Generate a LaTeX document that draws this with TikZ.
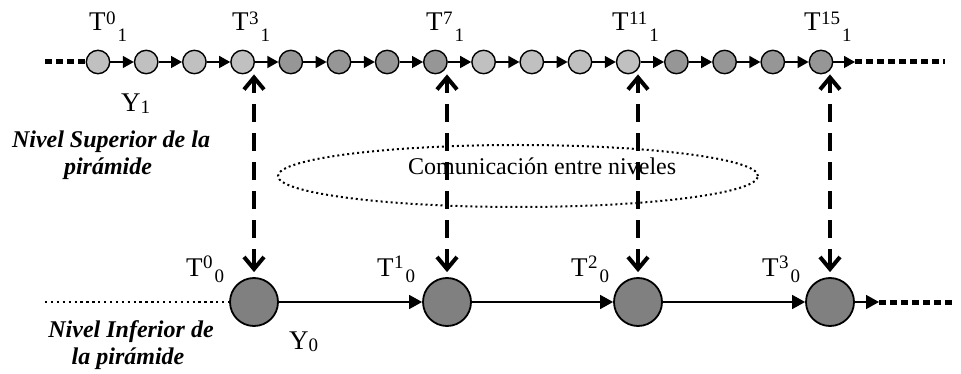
\documentclass[tikz,border=0pt]{standalone}
\usepackage{fontspec}
\setmainfont{Liberation Serif}
\usetikzlibrary{arrows.meta,shapes.geometric}
\definecolor{lgray}{HTML}{C0C0C0}
\definecolor{dgray}{HTML}{969696}
\definecolor{bgray}{HTML}{808080}
\newcommand\scr{\fontsize{19}{19}\selectfont}
\newcommand\Tlab[4]{T\hspace{0.5pt}\raisebox{#3}{\scr #1}\hspace{2pt}\raisebox{#4}{\scr #2}}
\begin{document}
\begin{tikzpicture}[x=1pt,y=-1pt,
  small/.style={circle,draw,line width=1.4pt,minimum size=23.4pt,inner sep=0pt},
  big/.style={circle,draw,line width=1.8pt,fill=bgray,minimum size=48pt,inner sep=0pt},
  harrow/.style={line width=1.5pt,-{Triangle[length=11pt,width=12pt]}},
  barrow/.style={line width=1.5pt,-{Triangle[length=13pt,width=14pt]}},
  thickdots/.style={line width=5pt,dash pattern=on 6.5pt off 4.5pt},
  finedots/.style={line width=2.3pt,dash pattern=on 2.3pt off 3.6pt},
  vlink/.style={line width=4pt,dash pattern=on 18pt off 11pt,
     {Straight Barb[length=12pt,width=20pt]}-{Straight Barb[length=12pt,width=20pt]},shorten <=5pt},
  lab/.style={font=\fontsize{27}{27}\selectfont,inner sep=0pt,anchor=base west},
  comm/.style={font=\fontsize{24}{24}\selectfont,inner sep=0pt,anchor=base west},
  nivel/.style={font=\fontsize{24}{24}\selectfont\bfseries\itshape,inner sep=0pt,anchor=base}
]
\useasboundingbox (0,0) rectangle (961,374);

% upper level
\foreach \i/\c in {0/lgray,1/lgray,2/lgray,3/lgray,4/dgray,5/dgray,6/dgray,7/dgray,
                   8/lgray,9/lgray,10/lgray,11/lgray,12/dgray,13/dgray,14/dgray,15/dgray}
  \node[small,fill=\c] (t\i) at ({98+48.2*\i},62) {};
\foreach \i [evaluate=\i as \j using int(\i+1)] in {0,...,14}
  \draw[harrow] (t\i) -- (t\j);
\coordinate (tstart) at (45,62);
\coordinate (tend) at (855,62);
\coordinate (tfar) at (945,62);
\draw[thickdots] (tstart) -- (t0);
\draw[harrow] (t15) -- (tend);
\draw[thickdots] (tend) -- (tfar);

% lower level
\node[big] (b0) at (254,302) {};
\node[big] (b1) at (447,302) {};
\node[big] (b2) at (638,302) {};
\node[big] (b3) at (830,302) {};
\draw[barrow] (b0) -- (b1);
\draw[barrow] (b1) -- (b2);
\draw[barrow] (b2) -- (b3);
\coordinate (bstart) at (45,302);
\coordinate (bend) at (879,302);
\coordinate (bfar) at (955,302);
\draw[finedots] (bstart) -- (b0);
\draw[barrow] (b3) -- (bend);
\draw[thickdots] (bend) -- (bfar);

% communication
\draw[vlink] (b0) -- (b0 |- t3.south);
\draw[vlink] (b1) -- (b1 |- t7.south);
\draw[vlink] (b2) -- (b2 |- t11.south);
\draw[vlink] (b3) -- (b3 |- t15.south);
\node[ellipse,draw,line width=2pt,dash pattern=on 2pt off 3pt,
      minimum width=480pt,minimum height=62pt,inner sep=0pt] (ell) at (518,176) {};
\node[comm] (txt) at (408,175) {Comunicación entre niveles};

% labels
\node[lab] (lt0) at (89,31) {\Tlab{0}{1}{6pt}{-11pt}};
\node[lab] (lt3) at (232,31) {\Tlab{3}{1}{6pt}{-11pt}};
\node[lab] (lt7) at (426,31) {\Tlab{7}{1}{6pt}{-11pt}};
\node[lab] (lt11) at (612,31) {\Tlab{11}{1}{6pt}{-11pt}};
\node[lab] (lt15) at (804,31) {\Tlab{15}{1}{6pt}{-11pt}};
\node[lab] (y1) at (121,112) {Y\raisebox{-1.5pt}{\scr 1}};

\node[lab] (lb0) at (186,276) {\Tlab{0}{0}{8pt}{-6pt}};
\node[lab] (lb1) at (377,276) {\Tlab{1}{0}{8pt}{-6pt}};
\node[lab] (lb2) at (571,276) {\Tlab{2}{0}{8pt}{-6pt}};
\node[lab] (lb3) at (762,276) {\Tlab{3}{0}{8pt}{-6pt}};
\node[lab] (y0) at (289,349) {Y\raisebox{-2pt}{\scr 0}};

\node[nivel] (ns1) at (111,148) {Nivel Superior de la};
\node[nivel] (ns2) at (108,175) {pirámide};
\node[nivel] (ni1) at (131,337) {Nivel Inferior de};
\node[nivel] (ni2) at (128,364) {la pirámide};
\end{tikzpicture}
\end{document}
